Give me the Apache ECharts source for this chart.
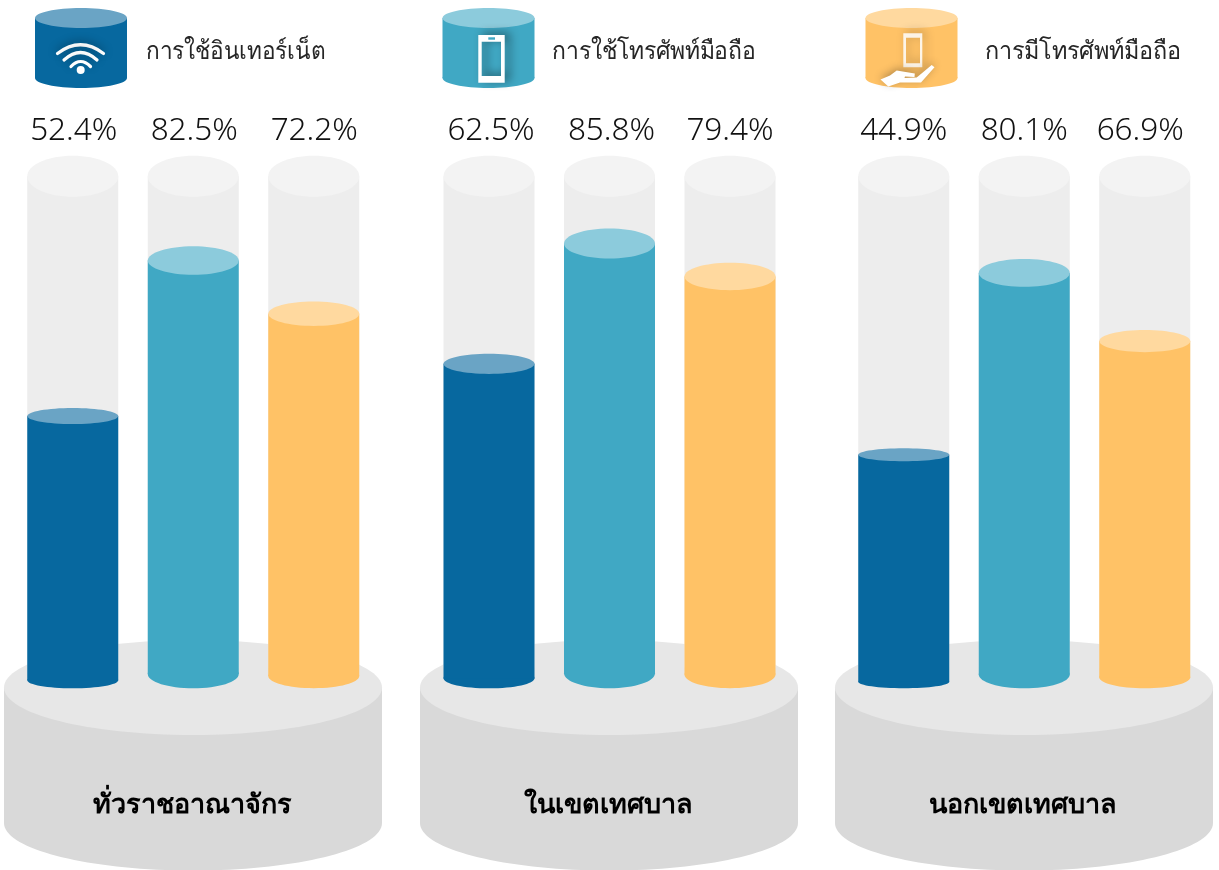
<!DOCTYPE html>
<html><head><meta charset="utf-8">
<style>html,body{margin:0;padding:0;background:#fff}#c{width:1219px;height:870px}</style>
<script src="https://cdn.jsdelivr.net/npm/echarts@6/dist/echarts.min.js"></script>
</head><body><div id="c"></div>
<script>
const indicators = ['การใช้อินเทอร์เน็ต', 'การใช้โทรศัพท์มือถือ', 'การมีโทรศัพท์มือถือ'];
const areas = ['ทั่วราชอาณาจักร', 'ในเขตเทศบาล', 'นอกเขตเทศบาล'];
const valuesKingdom = [52.4, 82.5, 72.2];
const valuesMunicipal = [62.5, 85.8, 79.4];
const valuesNonMunicipal = [44.9, 80.1, 66.9];
const trackValue = 98.8;
const sides = ['#07689f', '#40a8c4', '#ffc266'];
const tops = ['#6aa4c5', '#8ccbdc', '#ffd99f'];
const allValues = [valuesKingdom, valuesMunicipal, valuesNonMunicipal];
const groupCenters = [193.25, 609.5, 1024.25];
const pedestalCenters = [193, 609, 1024];
const labelNudge = [[1, 1, 0.5], [2, 2, 0], [0, 0, -4.5]];
const FONT = '"Noto Sans","Open Sans",sans-serif';

function cylinder(cx, hw, yTop, ryTop, yBot, ryBot, sideColor, topColor) {
  return [
    {type:'ellipse', shape:{cx, cy:yBot, rx:hw, ry:ryBot}, style:{fill:sideColor}, silent:true},
    {type:'rect', shape:{x:cx-hw, y:yTop, width:2*hw, height:yBot-yTop}, style:{fill:sideColor}, silent:true},
    {type:'ellipse', shape:{cx, cy:yTop, rx:hw, ry:ryTop}, style:{fill:topColor}, silent:true}
  ];
}
function ryFor(v){ return 0.208*v - 2.84; }

const renderBar = (params, api) => {
  const i = api.value(0), v = api.value(1);
  const p = api.coord([i, v]), base = api.coord([i, 0]), trk = api.coord([i, trackValue]);
  const hw = 45.5, ry = ryFor(v), foot = 688.3;
  const ghost = cylinder(p[0], hw, trk[1], 20.5, base[1]-20, 10, '#ededed', '#f3f3f3');
  const fill = cylinder(p[0], hw, p[1], ry, foot-ry, ry, sides[i], tops[i]);
  return {type:'group', children: ghost.concat(fill)};
};

const graphics = [];
pedestalCenters.forEach((cx, i) => {
  cylinder(cx, 189, 687.5, 47.5, 823, 47.5, '#d9d9d9', '#e7e7e7').forEach(e => { e.z = 0; graphics.push(e); });
  graphics.push({type:'text', z:3, silent:true, style:{x:groupCenters[i]-1, y:805, text:areas[i], fill:'#000', font:'bold 27px '+FONT, align:'center', verticalAlign:'middle'}});
});
const legendX = [81, 488.5, 911.5];
const legendTextX = [146, 552, 985];
const legendTextScale = [0.905, 0.918, 0.9375];
indicators.forEach((t, i) => {
  cylinder(legendX[i], 46, 18, 10, 78, 10, sides[i], tops[i]).forEach(e => { e.z = 1; graphics.push(e); });
  graphics.push({type:'text', silent:true, z:1, x:legendTextX[i], y:51.5, scaleX:legendTextScale[i], style:{x:0, y:0, text:t, fill:'#262626', font:'300 25px '+FONT, align:'left', verticalAlign:'middle'}});
});
// legend icons
[[57.5,53.5,80.5,36,103.5,53.5],[64,60,80.5,45,97,60],[71,66.5,80.5,56.5,90.5,66.5]].forEach(a => graphics.push({
  type:'bezierCurve', z:2, silent:true,
  shape:{x1:a[0], y1:a[1], cpx1:a[2], cpy1:a[3], x2:a[4], y2:a[5]},
  style:{fill:null, stroke:'#fff', lineWidth:3.2, lineCap:'round', shadowBlur:8, shadowColor:'rgba(0,0,0,.35)', shadowOffsetY:-2}
}));
graphics.push({type:'circle', z:2, silent:true, shape:{cx:80.7, cy:70, r:4}, style:{fill:'#fff'}});
const frame = (x0,y0,x1,y1,a0,b0,a1,b1) => [[x0,y0],[x1,y0],[x1,y1],[x0,y1],[x0,y0],[a0,b0],[a0,b1],[a1,b1],[a1,b0],[a0,b0],[x0,y0]];
graphics.push({type:'polygon', z:2, silent:true, shape:{points:frame(478.3,35,504.7,82.7,481.7,41.7,501,76)}, style:{fill:'#fff', shadowBlur:10, shadowColor:'rgba(0,0,0,.45)', shadowOffsetX:5, shadowOffsetY:-2}});
graphics.push({type:'rect', z:3, silent:true, shape:{x:488.3, y:37.3, width:6.7, height:2.4}, style:{fill:'#40a8c4'}});
graphics.push({type:'polygon', z:2, silent:true, shape:{points:frame(903.3,33.3,922.3,67.3,906,37.7,920,63.3)}, style:{fill:'#fff', opacity:.85, shadowBlur:10, shadowColor:'rgba(0,0,0,.3)', shadowOffsetX:3, shadowOffsetY:-2}});
graphics.push({type:'polygon', z:2, silent:true, shape:{points:[[880.5,79.5],[890,75.5],[896.7,70.5],[914.8,73.5],[914.5,77],[905,76.5],[904.5,78],[916.7,77.5],[931.7,65],[934.5,67.3],[921,82.5],[900,82.5],[888.3,86.5]]}, style:{fill:'#fff', shadowBlur:8, shadowColor:'rgba(0,0,0,.3)', shadowOffsetY:-2}});

const grid = [], xAxis = [], yAxis = [], series = [];
const hwGrid = 180.75;
groupCenters.forEach((c, i) => {
  grid.push({left:c-hwGrid, width:2*hwGrid, top:170.1, height:516.6});
  xAxis.push({type:'category', gridIndex:i, data:indicators, show:false});
  yAxis.push({type:'value', gridIndex:i, min:0, max:100, show:false});
  series.push({
    type:'custom', xAxisIndex:i, yAxisIndex:i, z:2, clip:false, silent:true,
    data: allValues[i].map((v, j) => [j, v]),
    renderItem: renderBar
  });
  series.push({
    type:'custom', xAxisIndex:i, yAxisIndex:i, z:3, clip:false, silent:true,
    data: allValues[i].map((v, j) => [j, v]),
    renderItem: (params, api) => {
      const p = api.coord([api.value(0), 0]);
      return {type:'text', style:{x:p[0]+labelNudge[i][api.value(0)], y:131.5, text:api.value(1).toFixed(1)+'%', fill:'#111', font:'300 31.5px '+FONT, align:'center', verticalAlign:'middle'}};
    }
  });
});
const chart = echarts.init(document.getElementById('c'), null, {renderer:'canvas'});
chart.setOption({animation:false, backgroundColor:'#fff', grid, xAxis, yAxis, series, graphic:{elements:graphics}});
</script></body></html>
